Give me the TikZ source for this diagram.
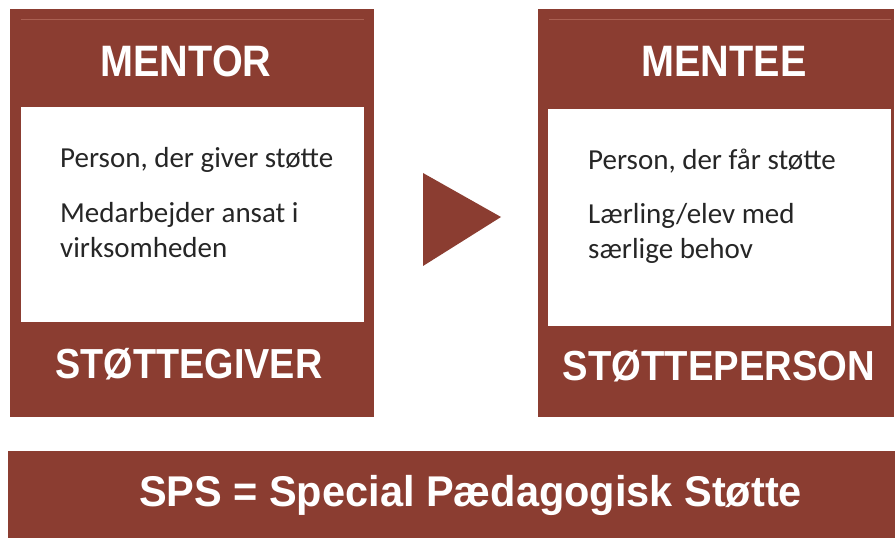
\documentclass[tikz,border=0pt]{standalone}
\usepackage{fontspec}
\setmainfont{Carlito}
\newfontfamily\headfont{Liberation Sans}
\definecolor{brick}{RGB}{139,61,49}
\definecolor{brickline}{RGB}{170,96,82}
\definecolor{bodytext}{RGB}{38,38,38}
\begin{document}
\begin{tikzpicture}[x=1pt,y=-1pt,
  panel/.style={fill=brick,draw=none},
  inner/.style={fill=white,draw=none},
  topline/.style={draw=brickline,line width=0.8pt},
  headtxt/.style={text=white,font=\headfont\bfseries\fontsize{44}{44}\selectfont,anchor=base,inner sep=0pt},
  foottxt/.style={text=white,font=\headfont\bfseries\fontsize{42}{42}\selectfont,anchor=base,inner sep=0pt},
  bartxt/.style={text=white,font=\headfont\bfseries\fontsize{43}{43}\selectfont,anchor=base,inner sep=0pt},
  bodytxt/.style={text=bodytext,font=\fontsize{29}{35}\selectfont,anchor=base west,inner sep=0pt}]
\useasboundingbox (0,0) rectangle (895,540);
% left panel
\path[panel] (10,9) rectangle (374,417);
\draw[topline] (21,19) -- (364,19);
\path[inner] (21,107) rectangle (364,322);
\node[headtxt] (mentor) at (186,77) {\scalebox{0.9}[1]{MENTOR}};
\node[bodytxt] (l1) at (60,168) {Person, der giver støtte};
\node[bodytxt] (l2) at (60,223) {Medarbejder ansat i};
\node[bodytxt] (l3) at (60,258) {virksomheden};
\node[foottxt] (giver) at (189,378) {\scalebox{0.9}[1]{STØTTEGIVER}};
% arrow triangle
\path[fill=brick] (423,173) -- (501,217) -- (423,266) -- cycle;
% right panel
\path[panel] (538,9) rectangle (894,417);
\draw[topline] (549,19) -- (891,19);
\path[inner] (548,109) rectangle (891,326);
\node[headtxt] (mentee) at (724,77) {\scalebox{0.9}[1]{MENTEE}};
\node[bodytxt] (r1) at (588,170) {Person, der får støtte};
\node[bodytxt] (r2) at (588,224) {Lærling/elev med};
\node[bodytxt] (r3) at (588,259) {særlige behov};
\node[foottxt] (person) at (719,381) {\scalebox{0.91}[1]{STØTTEPERSON}};
% bottom bar
\path[panel] (8,451) rectangle (895,538);
\node[bartxt] (sps) at (470.5,506) {\scalebox{0.965}[1]{SPS = Special Pædagogisk Støtte}};
\end{tikzpicture}
\end{document}
